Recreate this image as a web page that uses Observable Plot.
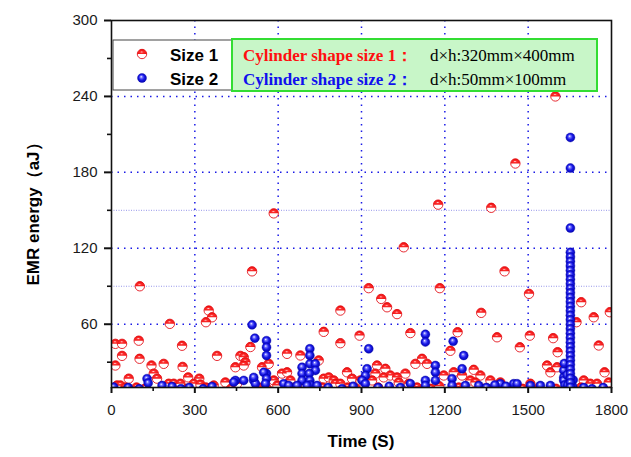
<!DOCTYPE html>
<html>
<head>
<meta charset="utf-8">
<script src="https://cdn.jsdelivr.net/npm/d3@7"></script>
<script src="https://cdn.jsdelivr.net/npm/@observablehq/plot@0.6"></script>
<style>
  html, body { margin: 0; padding: 0; background: #ffffff; }
  #chart { width: 631px; height: 457px; }
</style>
</head>
<body>
<div id="chart"></div>
<script>
// ---------- data ----------
const xTicks = [0, 300, 600, 900, 1200, 1500, 1800];
const xMinorTicks = [150, 450, 750, 1050, 1350, 1650];
const yTicks = [60, 120, 180, 240, 300];
const yMinorTicks = [30, 90, 150, 210, 270];
const gridXValues = [300, 600, 900, 1200, 1500];
const gridYValues = [60, 120, 180, 240];
const fineGridYValues = [90, 150];

const seriesNames = ["Size 1", "Size 2"];
const noteLines = [
  ["Cylinder shape size 1：", "d×h:320mm×400mm"],
  ["Cylinder shape size 2：", "d×h:50mm×100mm"]
];

// Size 1 (d×h: 320mm×400mm)
const size1Time = [
  1598, 1454, 1176, 1367, 584, 1052, 506, 1415, 102, 926, 1182, 971, 992, 1028, 1331, 1503,
  1691, 1736, 1794, 1674, 350, 362, 340, 210, 824, 764, 824, 893, 1076, 1246, 1388, 1506,
  1590, 1220, 1470, 1606, 1754, 14, 38, 98, 254, 38, 101, 14, 144, 188, 256, 380,
  62, 152, 164, 276, 316, 20, 32, 206, 224, 248, 296, 320, 368, 410,
  500, 464, 476, 482, 446, 476, 632, 680, 746, 542, 566, 584, 614, 632, 644,
  764, 782, 800, 848, 866, 806, 824, 452, 597,
  1118, 1094, 1136, 956, 986, 950, 980, 1004, 1028, 1058, 1034, 1070,
  1196, 1232, 1262, 1304, 1328, 1292, 1310, 896, 938,
  1568, 1580, 1604, 1775, 1364, 1400, 1700, 1724, 1748, 1790, 1508,
  50, 90, 120, 270, 340, 430, 530, 560, 660, 700, 730, 760, 850, 880, 960, 1000,
  1100, 1150, 1180, 1250, 1340, 1420, 1480, 1540, 1600, 1690, 1770
];
const size1Energy = [
  240, 187, 154.5, 152, 147.6, 120.8, 101.8, 101.8, 90, 88.5, 88.5, 80, 73.4, 68, 69, 84,
  77.4, 65.5, 69.5, 61.6, 70.8, 65.5, 61.6, 60.3, 70.8, 54, 45, 51, 53, 53.7, 49.7, 51,
  49, 39, 41.8, 37.9, 43.2, 44.5, 44.5, 47, 43, 35, 32.7, 27.4, 27.4, 28.7, 26.3, 35,
  17, 21, 17, 18, 17, 11.6, 11.6, 13, 13, 13, 13, 12.4, 11.6, 14,
  42, 35, 34, 30, 26, 27.4, 36.6, 35.3, 31.4, 26, 28.7, 15.6, 21, 22, 15.6,
  17, 18, 15.6, 22, 17, 13, 13, 13, 11.6,
  32.7, 28.7, 28.7, 27.4, 24.8, 21, 18, 19.5, 18, 21, 14, 13,
  19.5, 22, 19.5, 24, 19.5, 15.6, 14, 15.6, 15.6,
  27.4, 22, 26, 22, 15.6, 14, 15.6, 13, 13, 14, 13,
  10, 10, 9, 9, 10, 9, 10, 9, 10, 12, 9, 10, 10, 9, 10, 9,
  10, 9, 11, 10, 9, 10, 9, 10, 9, 10, 9
];

// Size 2 (d×h: 50mm×100mm)
const size2Time = [
  506, 516, 558, 558, 558, 558, 548, 558, 128, 132, 686, 686, 686, 714, 714, 714, 734, 734,
  712, 714, 716, 446, 476, 512, 518, 512, 926, 1130, 1130, 1230, 1268, 1262, 1166, 1166,
  920, 914, 902, 914, 8, 182, 218, 362, 440, 1628, 1628, 1628, 1630, 1632,
  1400, 1448, 1460, 1508, 1544, 1580, 1076, 1130, 1166, 1130, 1226, 1226, 1274, 1322,
  554, 620, 638, 668, 704, 740, 60, 100, 250, 280, 330, 780, 830, 870, 960, 1000, 1040,
  1350, 1380, 1420, 1700, 1730, 1770, 1640, 1662, 1642, 1660,
  1652, 1652, 1652, 1652, 1652, 1652, 1652, 1652, 1652, 1652, 1652, 1652, 1652, 1652, 1652,
  1652, 1652, 1652, 1652, 1652, 1652, 1652, 1652, 1652, 1652, 1652, 1652, 1652, 1652, 1652,
  1652, 1652, 1652, 1652
];
const size2Energy = [
  59.5, 49, 47, 41.8, 35.3, 21, 22, 17, 17, 13.5, 26, 21, 15.6, 40.6, 35.3, 28.7, 28.7, 23.5,
  21, 15.6, 12, 15.6, 15.6, 15.6, 13, 18, 40.6, 52, 46, 46.5, 35.3, 24.8, 27.4, 22,
  24.8, 19.5, 15.6, 13, 10.3, 11.6, 10.8, 10.8, 14.2, 23.5, 18, 15.6, 29, 12,
  13, 13, 13, 11.6, 11.6, 11.6, 13, 15.6, 15.6, 11.6, 17, 11.6, 11.6, 11.6,
  13, 13, 11.6, 11.6, 11.6, 11.6, 10, 9, 9, 10, 9, 10, 9, 11, 10, 11, 10,
  10, 12, 11, 10, 9, 10, 20, 16, 12, 11,
  207.6, 183.4, 136, 116.8, 113.2, 109.6, 106.1, 102.5, 99, 95.4, 91.9, 88.3, 84.8, 81.2, 77.7,
  74.1, 70.6, 67, 63.5, 59.9, 56.4, 52.8, 49.3, 45.7, 42.2, 38.6, 35.1, 31.5, 28, 24.4,
  20.9, 17.3, 13.8, 10.2
];

// ---------- build ----------
const size1 = size1Time.map((t, i) => ({t, e: size1Energy[i]}));
const size2 = size2Time.map((t, i) => ({t, e: size2Energy[i]}));

const halfTop = {
  draw(ctx, size) {
    const r = Math.sqrt(size / Math.PI);
    ctx.moveTo(r, 0);
    ctx.arc(0, 0, r, 0, Math.PI, true);
    ctx.closePath();
  }
};

const gridStyle = {stroke: "#1a1ae6", strokeOpacity: 1, strokeDasharray: "1.5,5", strokeWidth: 1.5};

const chart = Plot.plot({
  width: 631,
  height: 457,
  marginLeft: 111,
  marginRight: 20,
  marginTop: 20,
  marginBottom: 70,
  style: {fontFamily: "'Liberation Sans', Arial, sans-serif", fontSize: "15px", color: "#1a1a1a", background: "transparent"},
  x: {domain: [0, 1800]},
  y: {domain: [10, 300]},
  marks: [
    Plot.gridY(fineGridYValues, {stroke: "#6a6ae0", strokeOpacity: 0.7, strokeDasharray: "1,1.5", strokeWidth: 1}),
    Plot.gridX(gridXValues, gridStyle),
    Plot.gridY(gridYValues, gridStyle),
    Plot.dot(size1, {x: "t", y: "e", r: 4.7, fill: "white", stroke: "#e3141c", strokeWidth: 0.9, clip: true}),
    Plot.dot(size1, {x: "t", y: "e", r: 4.7, symbol: halfTop, fill: "url(#redBall)", clip: true}),
    Plot.dot(size2, {x: "t", y: "e", r: 4.5, fill: "url(#blueBall)", stroke: "#0000b0", strokeWidth: 0.4, clip: true}),
    Plot.frame({stroke: "#111", strokeWidth: 1.6}),
    Plot.axisX({ticks: xTicks, tickFormat: d => String(d), tickSize: 6, tickPadding: 11, strokeWidth: 2, stroke: "#111", fontSize: 15, label: null}),
    Plot.axisX({ticks: xMinorTicks, tickSize: 4, strokeWidth: 1.6, stroke: "#111", fill: "none", label: null}),
    Plot.axisY({ticks: yTicks, tickFormat: d => String(d), tickSize: 7, tickPadding: 7, strokeWidth: 2, stroke: "#111", fontSize: 15, label: null}),
    Plot.axisY({ticks: yMinorTicks, tickSize: 4, strokeWidth: 1.6, stroke: "#111", fill: "none", label: null})
  ]
});

document.getElementById("chart").appendChild(chart);

// ---------- gradients, legend, titles ----------
const svg = d3.select(chart);
const defs = svg.insert("defs", ":first-child");
const bg = defs.append("radialGradient").attr("id", "blueBall")
  .attr("cx", "0.5").attr("cy", "0.5").attr("r", "0.55").attr("fx", "0.4").attr("fy", "0.35");
bg.append("stop").attr("offset", "0%").attr("stop-color", "#ffffff");
bg.append("stop").attr("offset", "22%").attr("stop-color", "#7a7aff");
bg.append("stop").attr("offset", "55%").attr("stop-color", "#1a1ae8");
bg.append("stop").attr("offset", "100%").attr("stop-color", "#0000a8");
const rg = defs.append("radialGradient").attr("id", "redBall")
  .attr("cx", "0.5").attr("cy", "0.7").attr("r", "0.7").attr("fx", "0.45").attr("fy", "0.55");
rg.append("stop").attr("offset", "0%").attr("stop-color", "#ffe0e0");
rg.append("stop").attr("offset", "25%").attr("stop-color", "#ff3030");
rg.append("stop").attr("offset", "100%").attr("stop-color", "#e00000");

const g = svg.append("g").attr("text-anchor", "start");
// Series legend box
g.append("rect").attr("x", 113).attr("y", 40).attr("width", 122).attr("height", 50)
  .attr("fill", "#ffffff").attr("stroke", "#444").attr("stroke-width", 1);
const sym = d3.symbol().type(halfTop).size(4.7 * 4.7 * Math.PI)();
g.append("circle").attr("cx", 142).attr("cy", 54).attr("r", 4.7).attr("fill", "white").attr("stroke", "#e3141c").attr("stroke-width", 0.9);
g.append("path").attr("d", sym).attr("transform", "translate(142,54)").attr("fill", "url(#redBall)");
g.append("circle").attr("cx", 142).attr("cy", 78).attr("r", 4.5).attr("fill", "url(#blueBall)").attr("stroke", "#0000b0").attr("stroke-width", 0.4);
seriesNames.forEach((name, i) => {
  g.append("text").attr("x", 170).attr("y", 61 + i * 24).attr("text-anchor", "start").text(name)
    .attr("font-family", "'Liberation Sans', Arial, sans-serif").attr("font-weight", "bold")
    .attr("font-size", 17).attr("fill", "#000");
});
// Note box
g.append("rect").attr("x", 232).attr("y", 39).attr("width", 365).attr("height", 52)
  .attr("fill", "#c8f6c8").attr("stroke", "#33dd33").attr("stroke-width", 2);
const noteColors = ["#ff1010", "#1010ee"];
noteLines.forEach(([head, dims], i) => {
  const y = 61 + i * 24;
  g.append("text").attr("x", 243).attr("y", y).attr("text-anchor", "start").text(head)
    .attr("font-family", "'Liberation Serif', 'Times New Roman', serif").attr("font-weight", "bold")
    .attr("font-size", 17).attr("fill", noteColors[i]);
  g.append("text").attr("x", 430).attr("y", y).attr("text-anchor", "start").text(dims)
    .attr("font-family", "'Liberation Serif', 'Times New Roman', serif")
    .attr("font-size", 17).attr("fill", "#000");
});
// Axis titles
g.append("text").attr("x", 361).attr("y", 447).attr("text-anchor", "middle").text("Time (S)")
  .attr("font-family", "'Liberation Sans', Arial, sans-serif").attr("font-weight", "bold")
  .attr("font-size", 17).attr("fill", "#000");
g.append("text").attr("transform", "translate(39,210) rotate(-90)").attr("text-anchor", "middle").text("EMR energy（aJ）")
  .attr("font-family", "'Liberation Sans', Arial, sans-serif").attr("font-weight", "bold")
  .attr("font-size", 17).attr("fill", "#000");
</script>
</body>
</html>
